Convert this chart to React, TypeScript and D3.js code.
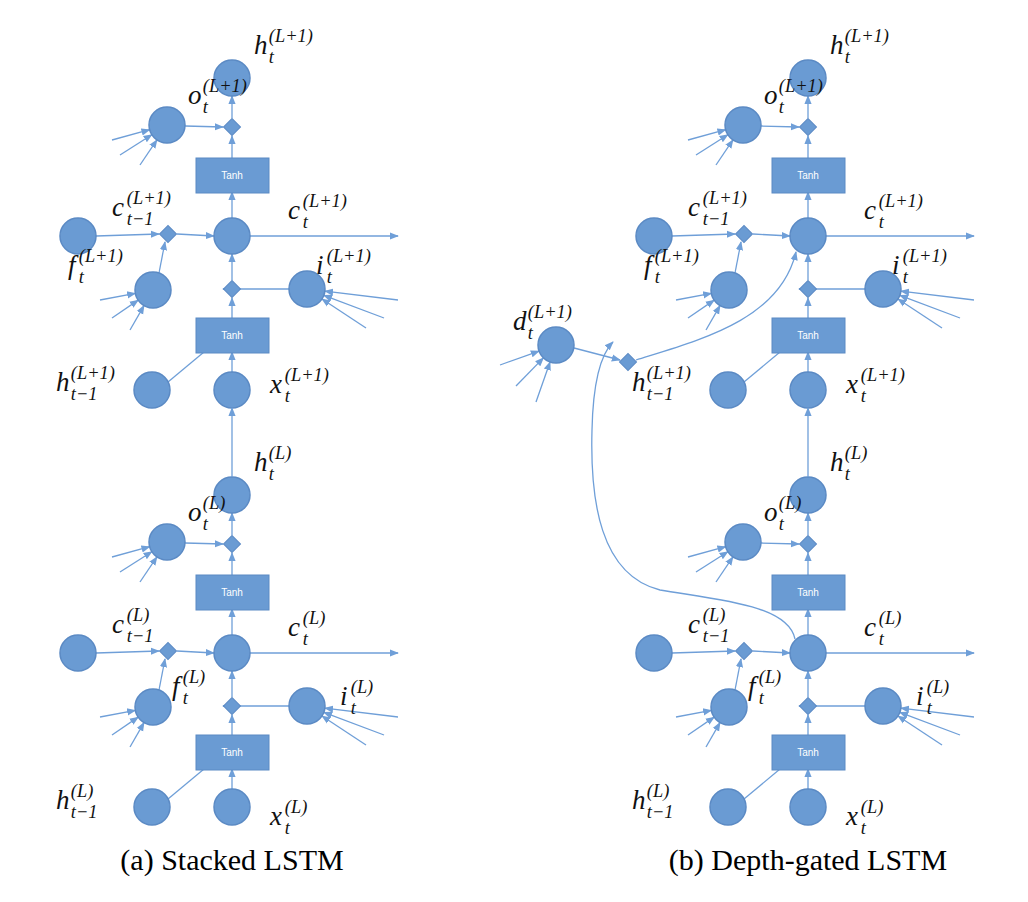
import * as d3 from "d3";

// one cell layer, relative to the column centre (x) and the layer's c_t row (y)
type N = { id: string; dx: number; dy: number };
const circles: N[] = [
  { id: "h", dx: 0, dy: -158 },
  { id: "o", dx: -65, dy: -111 },
  { id: "cPrev", dx: -154, dy: 0 },
  { id: "c", dx: 0, dy: 0 },
  { id: "f", dx: -79, dy: 54 },
  { id: "i", dx: 75, dy: 53 },
];
const diamonds: N[] = [
  { id: "dh", dx: 0, dy: -109 },
  { id: "dc", dx: -64, dy: -2 },
  { id: "di", dx: 0, dy: 53 },
];
const tanhs = [-61, 99];
const inputs: N[] = [
  { id: "hPrev", dx: -80, dy: 154 },
  { id: "x", dx: 0, dy: 154 },
];
// incoming "fan" line starts for gates
const fans: { to: string; pts: [number, number][] }[] = [
  { to: "o", pts: [[-120, -96], [-112, -81], [-92, -71]] },
  { to: "f", pts: [[-132, 64], [-120, 82], [-102, 94]] },
  { to: "i", pts: [[166, 64], [152, 82], [134, 92]] },
];

const columns = [232, 808];
const layerY = [236, 653];
const captions = ["(a) Stacked LSTM", "(b) Depth-gated LSTM"];

const FILL = "#6a9bd3";
const STROKE = "#5b8ac4";
const LINE = "#6f9fd8";
const R = 18;

function Label({ x, y, base, sup, sub, size = 27 }: any) {
  const w = size * (base === "i" || base === "f" ? 0.4 : 0.55);
  const s = size * 0.68;
  const font = { fontFamily: "Liberation Serif", fontStyle: "italic", fill: "#111" } as any;
  return (
    <g>
      <text x={x} y={y} fontSize={size} {...font}>{base}</text>
      <text x={x + w} y={y - size * 0.45} fontSize={s} {...font}>{sup}</text>
      <text x={x + w} y={y + size * 0.32} fontSize={s} {...font}>{sub}</text>
    </g>
  );
}

function arrowLine(x1: number, y1: number, x2: number, y2: number, k: string, arrow = true) {
  return (
    <line key={k} x1={x1} y1={y1} x2={x2} y2={y2} stroke={LINE} strokeWidth={1.3}
      markerEnd={arrow ? "url(#ah)" : undefined} />
  );
}

function Layer({ cx, cy, top }: { cx: number; cy: number; top: boolean }) {
  const p = (id: string) => {
    const n = [...circles, ...diamonds, ...inputs].find((d) => d.id === id)!;
    return [cx + n.dx, cy + n.dy];
  };
  const els: any[] = [];
  const [hx, hy] = p("h"), [ox, oy] = p("o"), [dhx, dhy] = p("dh");
  const [cpx, cpy] = p("cPrev"), [dcx, dcy] = p("dc"), [fx, fy] = p("f");
  const [ix, iy] = p("i"), [dix, diy] = p("di"), [hpx, hpy] = p("hPrev"), [xx, xy] = p("x");
  const t1 = cy + tanhs[0], t2 = cy + tanhs[1];
  els.push(arrowLine(dhx, dhy - 9, hx, hy + R, "a1"));
  els.push(arrowLine(ox + R, oy + 1, dhx - 9, dhy, "a2"));
  els.push(arrowLine(cx, t1 - 17, dhx, dhy + 9, "a3"));
  els.push(arrowLine(cx, cy - R, cx, t1 + 17, "a4"));
  els.push(arrowLine(cx + R, cy, cx + 166, cy, "a5"));
  els.push(arrowLine(cpx + R, cpy, dcx - 9, dcy, "a6"));
  els.push(arrowLine(fx + 6, fy - R + 1, dcx - 3, dcy + 8, "a7"));
  els.push(arrowLine(dcx + 9, dcy, cx - R, cy, "a8"));
  els.push(arrowLine(ix - R, iy, dix - 9, diy, "a9"));
  els.push(arrowLine(dix, diy - 9, cx, cy + R, "a10"));
  els.push(arrowLine(cx, t2 - 17, dix, diy + 9, "a11"));
  els.push(arrowLine(hpx + R - 2, hpy - 8, cx - 28, t2 + 17, "a12", false));
  els.push(arrowLine(xx, xy - R, cx, t2 + 17, "a13"));
  fans.forEach((f) => {
    const [tx, ty] = p(f.to);
    f.pts.forEach(([ax, ay], i) => {
      const ang = Math.atan2(ay - (ty - cy), ax - (tx - cx));
      els.push(arrowLine(cx + ax, cy + ay, tx + Math.cos(ang) * R, ty + Math.sin(ang) * R, f.to + i));
    });
  });
  tanhs.forEach((t, i) =>
    els.push(
      <g key={"t" + i}>
        <rect x={cx - 36} y={cy + t - 17} width={73} height={35} fill={FILL} stroke={STROKE} />
        <text x={cx} y={cy + t + 4} fontSize={10} fill="#fff" textAnchor="middle" fontFamily="Liberation Sans">Tanh</text>
      </g>
    )
  );
  [...circles, ...inputs].forEach((n) =>
    els.push(<circle key={n.id} cx={cx + n.dx} cy={cy + n.dy} r={R} fill={FILL} stroke={STROKE} strokeWidth={1.5} />)
  );
  diamonds.forEach((n) =>
    els.push(
      <rect key={n.id} x={cx + n.dx - 6} y={cy + n.dy - 6} width={12} height={12} fill={FILL} stroke={STROKE}
        transform={`rotate(45 ${cx + n.dx} ${cy + n.dy})`} />
    )
  );
  const s = top ? "(L+1)" : "(L)";
  const fl = top ? [-164, 38] : [-60, 42];
  els.push(<Label key="l1" x={cx + 22} y={cy - 182} base="h" sup={s} sub="t" />);
  els.push(<Label key="l2" x={cx - 44} y={cy - 132} base="o" sup={s} sub="t" />);
  els.push(<Label key="l3" x={cx - 120} y={cy - 20} base="c" sup={s} sub="t−1" />);
  els.push(<Label key="l4" x={cx + 56} y={cy - 17} base="c" sup={s} sub="t" />);
  els.push(<Label key="l5" x={cx + fl[0]} y={cy + fl[1]} base="f" sup={s} sub="t" />);
  els.push(<Label key="l6" x={cx + (top ? 84 : 108)} y={cy + (top ? 38 : 52)} base="i" sup={s} sub="t" />);
  els.push(<Label key="l7" x={cx - 176} y={cy + (top ? 155 : 156)} base="h" sup={s} sub="t−1" />);
  els.push(<Label key="l8" x={cx + 38} y={cy + (top ? 157 : 172)} base="x" sup={s} sub="t" />);
  return <g>{els}</g>;
}

export default function App() {
  const rx = columns[1];
  const path = d3.path();
  path.moveTo(rx - 13, layerY[1] - 14);
  path.bezierCurveTo(rx - 20, 605, 720, 600, 660, 590);
  path.bezierCurveTo(600, 575, 590, 500, 592, 430);
  path.bezierCurveTo(593, 385, 600, 355, 613, 342);
  const path2 = d3.path();
  path2.moveTo(636, 360);
  path2.bezierCurveTo(700, 340, 780, 320, 796, 252);
  return (
    <svg width={1028} height={902} style={{ position: "absolute", left: 0, top: 0 }}>
      <defs>
        <marker id="ah" viewBox="0 0 10 10" refX={9} refY={5} markerWidth={7} markerHeight={7} orient="auto">
          <path d="M0,1 L10,5 L0,9 z" fill={LINE} />
        </marker>
      </defs>
      <rect width={1028} height={902} fill="#fff" />
      {columns.map((cx, ci) => (
        <g key={ci}>
          {layerY.map((cy, li) => (
            <Layer key={li} cx={cx} cy={cy} top={li === 0} />
          ))}
          {arrowLine(cx, layerY[1] - 158 - R, cx, layerY[0] + 154 + R, "mid" + ci)}
          <text x={cx} y={870} textAnchor="middle" fontFamily="Liberation Serif" fontSize={30}>{captions[ci]}</text>
        </g>
      ))}
      <path d={path.toString()} fill="none" stroke={LINE} strokeWidth={1.3} markerEnd="url(#ah)" />
      <path d={path2.toString()} fill="none" stroke={LINE} strokeWidth={1.3} markerEnd="url(#ah)" />
      {[[500, 365], [516, 386], [536, 402]].map(([x, y], i) => {
        const a = Math.atan2(y - 345, x - 556);
        return arrowLine(x, y, 556 + Math.cos(a) * R, 345 + Math.sin(a) * R, "d" + i);
      })}
      {arrowLine(556 + R, 348, 620, 360, "dd")}
      <circle cx={556} cy={345} r={R} fill={FILL} stroke={STROKE} strokeWidth={1.5} />
      <rect x={622} y={356} width={12} height={12} fill={FILL} stroke={STROKE} transform="rotate(45 628 362)" />
      <Label x={513} y={330} base="d" sup="(L+1)" sub="t" />
    </svg>
  );
}
